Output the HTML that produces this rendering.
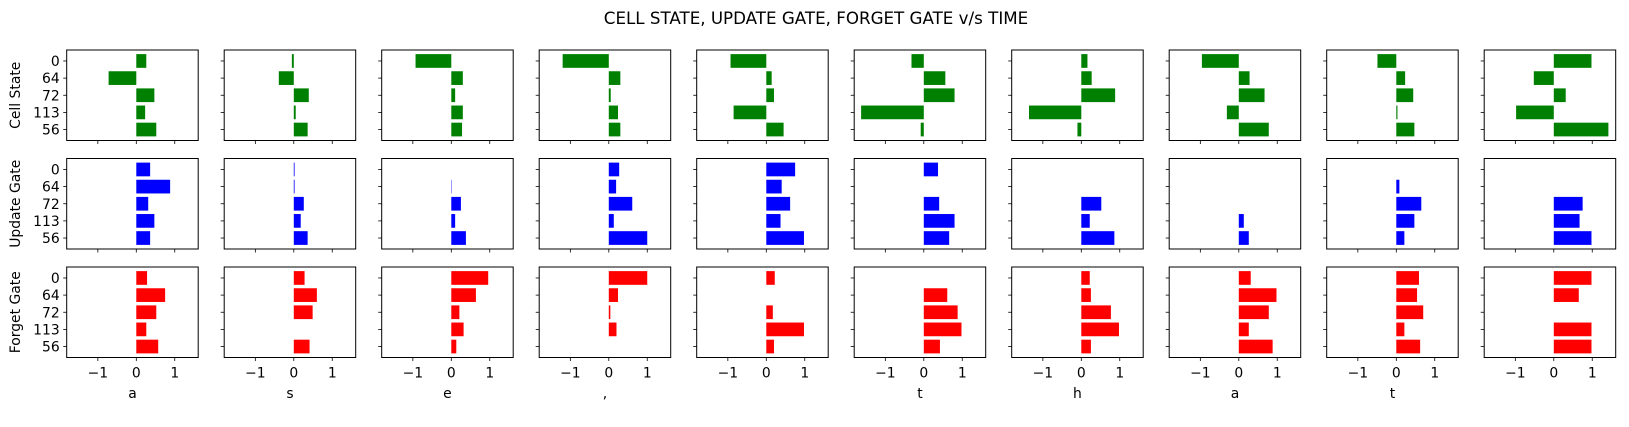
<!DOCTYPE html>
<html><head><meta charset="utf-8"><style>
html,body{margin:0;padding:0;background:#fff;}
svg{display:block;font-family:"DejaVu Sans","Liberation Sans",sans-serif;}
</style></head><body>
<svg id="fig" width="1629" height="427" viewBox="0 0 1629 427">
<text x="816" y="24" text-anchor="middle" font-size="16.7" fill="#000">CELL STATE, UPDATE GATE, FORGET GATE v/s TIME</text>
</svg>
<script>
const timeSteps = ["a","s","e",","," ","t","h","a","t"," "];
const categories = ["0","64","72","113","56"];
const rowLabels = ["Cell State","Update Gate","Forget Gate"];
const rowColors = ["#008000","#0000ff","#ff0000"];
const xTicks = [-1,0,1];
const xTickLabels = ["\u22121","0","1"];
const cellState = [
 [0.26,-0.72,0.47,0.23,0.52],
 [-0.05,-0.39,0.39,0.05,0.36],
 [-0.93,0.30,0.10,0.30,0.28],
 [-1.20,0.30,0.05,0.24,0.30],
 [-0.93,0.14,0.20,-0.85,0.45],
 [-0.32,0.56,0.80,-1.63,-0.08],
 [0.16,0.27,0.88,-1.36,-0.10],
 [-0.96,0.28,0.67,-0.31,0.78],
 [-0.49,0.23,0.44,0.03,0.47],
 [0.98,-0.52,0.31,-0.98,1.42]
];
const updateGate = [
 [0.36,0.88,0.31,0.47,0.36],
 [0.02,0.02,0.26,0.18,0.36],
 [0,0.01,0.25,0.10,0.38],
 [0.27,0.19,0.61,0.13,1.00],
 [0.75,0.40,0.62,0.37,0.98],
 [0.37,0,0.40,0.80,0.66],
 [0,0,0.52,0.22,0.86],
 [0,0,0,0.13,0.26],
 [0,0.08,0.65,0.47,0.21],
 [0,0,0.75,0.67,0.98]
];
const forgetGate = [
 [0.28,0.75,0.52,0.26,0.57],
 [0.28,0.60,0.49,0,0.41],
 [0.96,0.64,0.21,0.32,0.13],
 [1.00,0.24,0.04,0.20,0],
 [0.22,0,0.17,0.98,0.20],
 [0,0.61,0.88,0.98,0.42],
 [0.22,0.25,0.77,0.98,0.25],
 [0.31,0.98,0.78,0.26,0.88],
 [0.59,0.54,0.70,0.21,0.62],
 [0.98,0.65,0,0.98,0.98]
];
const rowsData = [cellState, updateGate, forgetGate];

const NS="http://www.w3.org/2000/svg";
const svg=document.getElementById('fig');
const X0=66.7, PITCH=157.5, PW=131.5, ROWTOP=[50,158.5,267], PH=90.5;
const XMIN=-1.81, XMAX=1.61, YMIN=-0.64, YMAX=4.64;
function xs(c,v){return X0+c*PITCH+(v-XMIN)/(XMAX-XMIN)*PW;}
function ys(r,i){return ROWTOP[r]+(i-YMIN)/(YMAX-YMIN)*PH;}
function mk(tag,attrs){const e=document.createElementNS(NS,tag);for(const k in attrs)e.setAttribute(k,attrs[k]);svg.appendChild(e);return e;}

for(let r=0;r<3;r++){
  for(let c=0;c<10;c++){
    const vals=rowsData[r][c];
    for(let i=0;i<categories.length;i++){
      const v=vals[i];
      const a=xs(c,0), b=xs(c,v);
      const bar=mk('rect',{x:Math.min(a,b),y:ys(r,i-0.4),width:Math.abs(b-a),height:ys(r,i+0.4)-ys(r,i-0.4),fill:rowColors[r]});
      
      
    }
    const L=X0+c*PITCH, T=ROWTOP[r];
    const fr=mk('rect',{x:L,y:T,width:PW,height:PH,fill:'none',stroke:'#000','stroke-width':1});
    
    
    for(let i=0;i<categories.length;i++){
      const y=ys(r,i);
      const t=mk('line',{x1:L-3.5,x2:L,y1:y,y2:y,stroke:'#000','stroke-width':0.8});
      
      
      if(c===0){
        const tl=mk('text',{x:L-7,y:y+5,'text-anchor':'end','font-size':13.9,fill:'#000'});
        tl.textContent=categories[i];
        
        
      }
    }
    for(let k=0;k<xTicks.length;k++){
      const x=xs(c,xTicks[k]);
      const t=mk('line',{x1:x,x2:x,y1:T+PH,y2:T+PH+3.5,stroke:'#000','stroke-width':0.8});
      
      
      if(r===2){
        const tl=mk('text',{x:x,y:T+PH+20,'text-anchor':'middle','font-size':13.9,fill:'#000'});
        tl.textContent=xTickLabels[k];
        
        
      }
    }
    if(r===2){
      const xl=mk('text',{x:L+PW/2,y:398,'text-anchor':'middle','font-size':13.9,fill:'#000'});
      xl.textContent=timeSteps[c];
      
      
    }
  }
  const cy=ROWTOP[r]+PH/2;
  const yl=mk('text',{x:0,y:0,'text-anchor':'middle','font-size':13.9,fill:'#000',transform:'translate(20,'+cy+') rotate(-90)'});
  yl.textContent=rowLabels[r];
  
  
}
</script>
</body></html>
